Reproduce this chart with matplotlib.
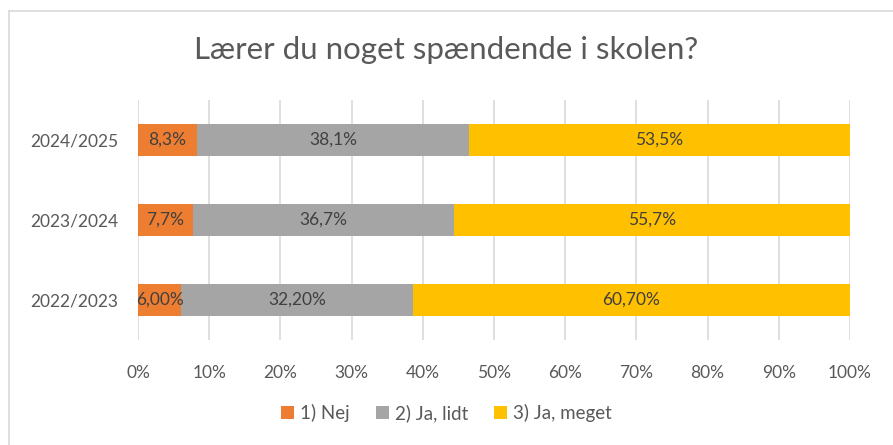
import numpy as np
import matplotlib.pyplot as plt
from matplotlib.lines import Line2D

plt.rcParams['font.family'] = ['Lato', 'DejaVu Sans']

years = ['2022/2023', '2023/2024', '2024/2025']
nej = [6.00, 7.7, 8.3]
ja_lidt = [32.20, 36.7, 38.1]
ja_meget = [60.70, 55.7, 53.5]
label_nej = ['6,00%', '7,7%', '8,3%']
label_lidt = ['32,20%', '36,7%', '38,1%']
label_meget = ['60,70%', '55,7%', '53,5%']
series_names = ['1) Nej', '2) Ja, lidt', '3) Ja, meget']
colors = ['#ED7D31', '#A5A5A5', '#FFC000']

# 100% stacked -> normalise each row
raw = np.array([nej, ja_lidt, ja_meget])
shares = raw / raw.sum(axis=0) * 100
labels = [label_nej, label_lidt, label_meget]

fig = plt.figure(figsize=(8.93, 4.45), dpi=100)
ax = fig.add_axes([138 / 893, 1 - 340 / 445, 712 / 893, 240 / 445])

y = np.arange(len(years))
left = np.zeros(len(years))
for i in range(3):
    bars = ax.barh(y, shares[i], left=left, height=0.39, color=colors[i],
                   label=series_names[i], zorder=3)
    for j, b in enumerate(bars):
        ax.text(left[j] + shares[i][j] / 2, y[j], labels[i][j], ha='center',
                va='center', fontsize=12.5, color='#404040', zorder=4)
    left = left + shares[i]

ax.set_xlim(0, 100)
ax.set_ylim(-0.5, 2.5)
ax.set_xticks(np.arange(0, 101, 10))
ax.set_xticklabels([f'{v}%' for v in range(0, 101, 10)])
ax.set_yticks(y)
ax.set_yticklabels(years)
ax.tick_params(axis='both', length=0, labelsize=12.5, labelcolor='#595959')
ax.tick_params(axis='x', pad=18)
ax.tick_params(axis='y', pad=14)
ax.grid(axis='x', color='#D9D9D9', linewidth=1.2, zorder=0)
for s in ax.spines.values():
    s.set_visible(False)

fig.text(0.5, 1 - 50 / 445, 'Lærer du noget spændende i skolen?', ha='center',
         va='center', fontsize=22.5, color='#595959')

fig.legend(loc='center', bbox_to_anchor=(0.5, 1 - 413 / 445), ncol=3,
           frameon=False, fontsize=13.5, handlelength=0.7, handleheight=0.7,
           handletextpad=0.3, columnspacing=1.4, labelcolor='#595959')

fig.add_artist(Line2D([9 / 893, 1], [1 - 11 / 445, 1 - 11 / 445],
                      color='#D9D9D9', linewidth=1.2))
fig.add_artist(Line2D([9 / 893, 9 / 893], [0, 1 - 11 / 445],
                      color='#D9D9D9', linewidth=1.2))

fig.savefig('out.png', dpi=100)
